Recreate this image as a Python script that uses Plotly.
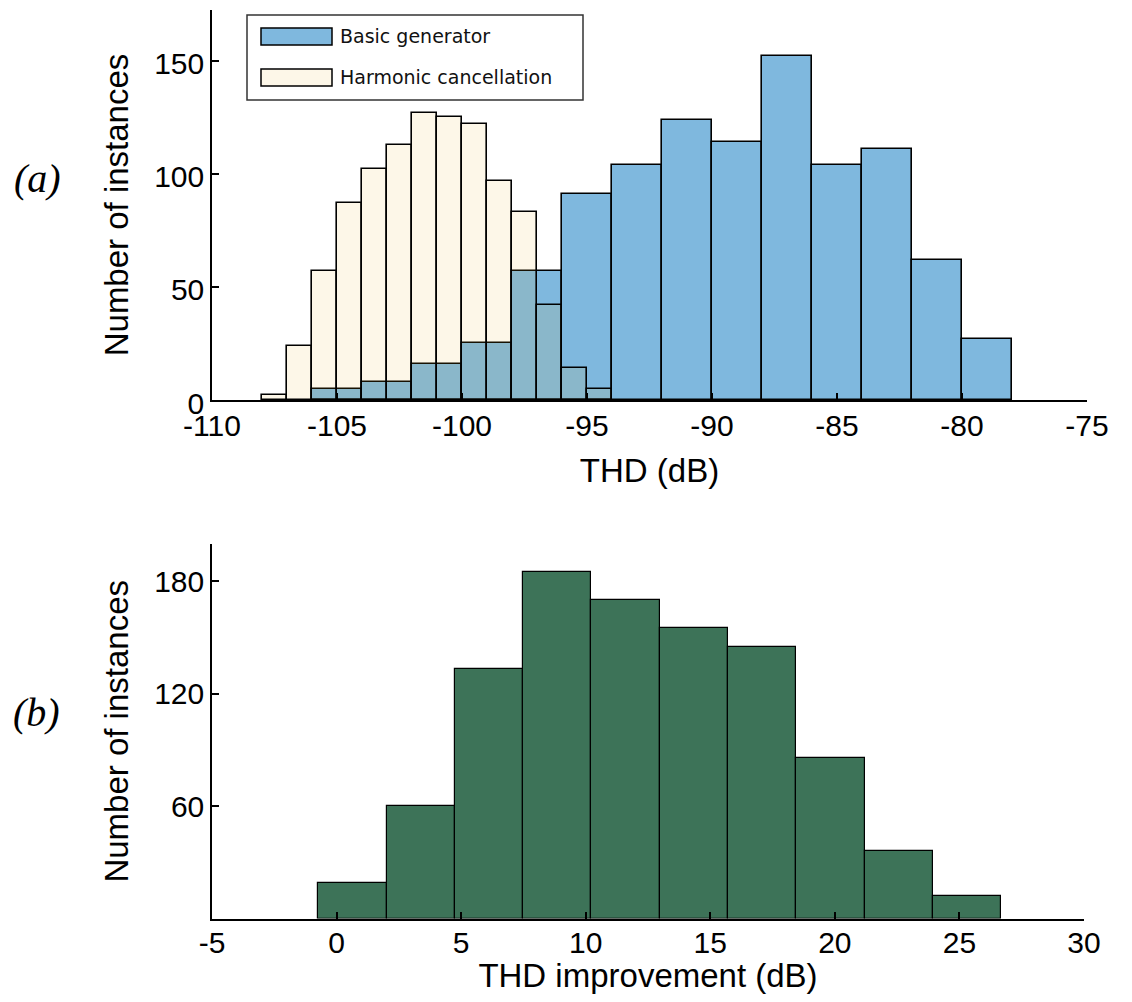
import plotly.graph_objects as go

# ---------------- data ----------------
# (a) THD histograms
basic_bin_left = [-106, -104, -102, -100, -98, -96, -94, -92, -90, -88, -86, -84, -82, -80]
basic_counts = [5, 8, 16, 25, 57, 91, 104, 124, 114, 152, 104, 111, 62, 27]
basic_bin_width = 2

harm_bin_left = [-108, -107, -106, -105, -104, -103, -102, -101, -100, -99, -98, -97, -96, -95]
harm_counts = [2, 24, 57, 87, 102, 113, 127, 125, 122, 97, 83, 42, 14, 5]
harm_bin_width = 1

thd_ticks = [-110, -105, -100, -95, -90, -85, -80, -75]
count_ticks_a = [0, 50, 100, 150]

# (b) THD improvement histogram
impr_bin_left = [-0.73, 2.01, 4.75, 7.49, 10.23, 12.97, 15.71, 18.45, 21.19, 23.93]
impr_counts = [19, 60, 133, 185, 170, 155, 145, 86, 36, 12]
impr_bin_width = 2.74

impr_ticks = [-5, 0, 5, 10, 15, 20, 25, 30]
count_ticks_b = [60, 120, 180]

legend_names = ["Basic generator", "Harmonic cancellation"]

# ---------------- style ----------------
BLUE = "rgba(0,114,189,0.5)"
ORANGE = "rgba(237,177,32,0.1)"
GREEN = "#3d7358"
FONT = "Liberation Sans, Arial, sans-serif"

PAGE_W, PAGE_H = 1132, 1002
BODY_MARGIN = 8  # default HTML body margin
W, H = PAGE_W - 2 * BODY_MARGIN, PAGE_H - 2 * BODY_MARGIN

fig = go.Figure()

fig.add_trace(go.Bar(
    x=basic_bin_left, y=basic_counts, width=basic_bin_width, offset=0,
    marker=dict(color=BLUE, line=dict(color="black", width=1.6)),
    name=legend_names[0], xaxis="x", yaxis="y", showlegend=False,
))
fig.add_trace(go.Bar(
    x=harm_bin_left, y=harm_counts, width=harm_bin_width, offset=0,
    marker=dict(color=ORANGE, line=dict(color="black", width=1.6)),
    name=legend_names[1], xaxis="x", yaxis="y", showlegend=False,
))
fig.add_trace(go.Bar(
    x=impr_bin_left, y=impr_counts, width=impr_bin_width, offset=0,
    marker=dict(color=GREEN, line=dict(color="black", width=1.2)),
    name="THD improvement", xaxis="x2", yaxis="y2", showlegend=False,
))

def px_x(p):
    return (p - BODY_MARGIN) / W

def px_y(p):
    return (H - (p - BODY_MARGIN)) / H

def labels(vals):
    return [str(v) for v in vals]

axis_common = dict(
    showline=True, linecolor="black", linewidth=1.5,
    ticks="inside", ticklen=7, tickwidth=1.5, tickcolor="black",
    showgrid=False, zeroline=False, mirror=False, automargin=False,
    tickfont=dict(family=FONT, size=30, color="black"),
    title_font=dict(family=FONT, size=33, color="black"),
)

fig.update_layout(
    width=W, height=H,
    margin=dict(l=0, r=0, t=0, b=0),
    paper_bgcolor="white", plot_bgcolor="white",
    barmode="overlay", bargap=0,
    showlegend=False,
    xaxis=dict(domain=[px_x(212), px_x(1087)], range=[-110, -75],
               tickvals=thd_ticks, ticktext=labels(thd_ticks), anchor="y",
               ticklabelstandoff=-2,
               title=dict(text="THD (dB)", standoff=18), **axis_common),
    yaxis=dict(domain=[px_y(400), px_y(10)], range=[0, 172.5],
               tickvals=count_ticks_a, ticktext=labels(count_ticks_a), anchor="x",
               ticklabelshift=3,
               title=dict(text="Number of instances", standoff=16), **axis_common),
    xaxis2=dict(domain=[px_x(212), px_x(1084)], range=[-5, 30],
                tickvals=impr_ticks, ticktext=labels(impr_ticks), anchor="y2",
                ticklabelstandoff=-3,
                title=dict(text="THD improvement (dB)", standoff=15), **axis_common),
    yaxis2=dict(domain=[px_y(918.6), px_y(544)], range=[0, 200],
                tickvals=count_ticks_b, ticktext=labels(count_ticks_b), anchor="x2",
                title=dict(text="Number of instances", standoff=16), **axis_common),
)

# panel labels
SERIF = "Liberation Serif, Times New Roman, serif"
fig.add_annotation(text="<i>(a)</i>", x=px_x(37), y=px_y(178), xref="paper", yref="paper",
                   showarrow=False, xanchor="center", yanchor="middle",
                   font=dict(family=SERIF, size=40, color="black"))
fig.add_annotation(text="<i>(b)</i>", x=px_x(36), y=px_y(712), xref="paper", yref="paper",
                   showarrow=False, xanchor="center", yanchor="middle",
                   font=dict(family=SERIF, size=40, color="black"))

# custom legend box (MATLAB-style)
fig.add_shape(type="rect", xref="paper", yref="paper",
              x0=px_x(247), x1=px_x(583), y0=px_y(100), y1=px_y(15),
              line=dict(color="#333333", width=1.5), fillcolor="white", layer="above")
legend_rows = [(28, 45, BLUE), (69, 86, ORANGE)]
for (top, bot, col), name in zip(legend_rows, legend_names):
    fig.add_shape(type="rect", xref="paper", yref="paper",
                  x0=px_x(261), x1=px_x(332), y0=px_y(bot), y1=px_y(top),
                  line=dict(color="black", width=1.5), fillcolor=col, layer="above")
    fig.add_annotation(text=name, x=px_x(338), y=px_y((top + bot) / 2),
                       xref="paper", yref="paper", showarrow=False,
                       xanchor="left", yanchor="middle",
                       font=dict(family="DejaVu Sans, Verdana, sans-serif", size=19, color="#111111"))

fig.write_html("out.html")
